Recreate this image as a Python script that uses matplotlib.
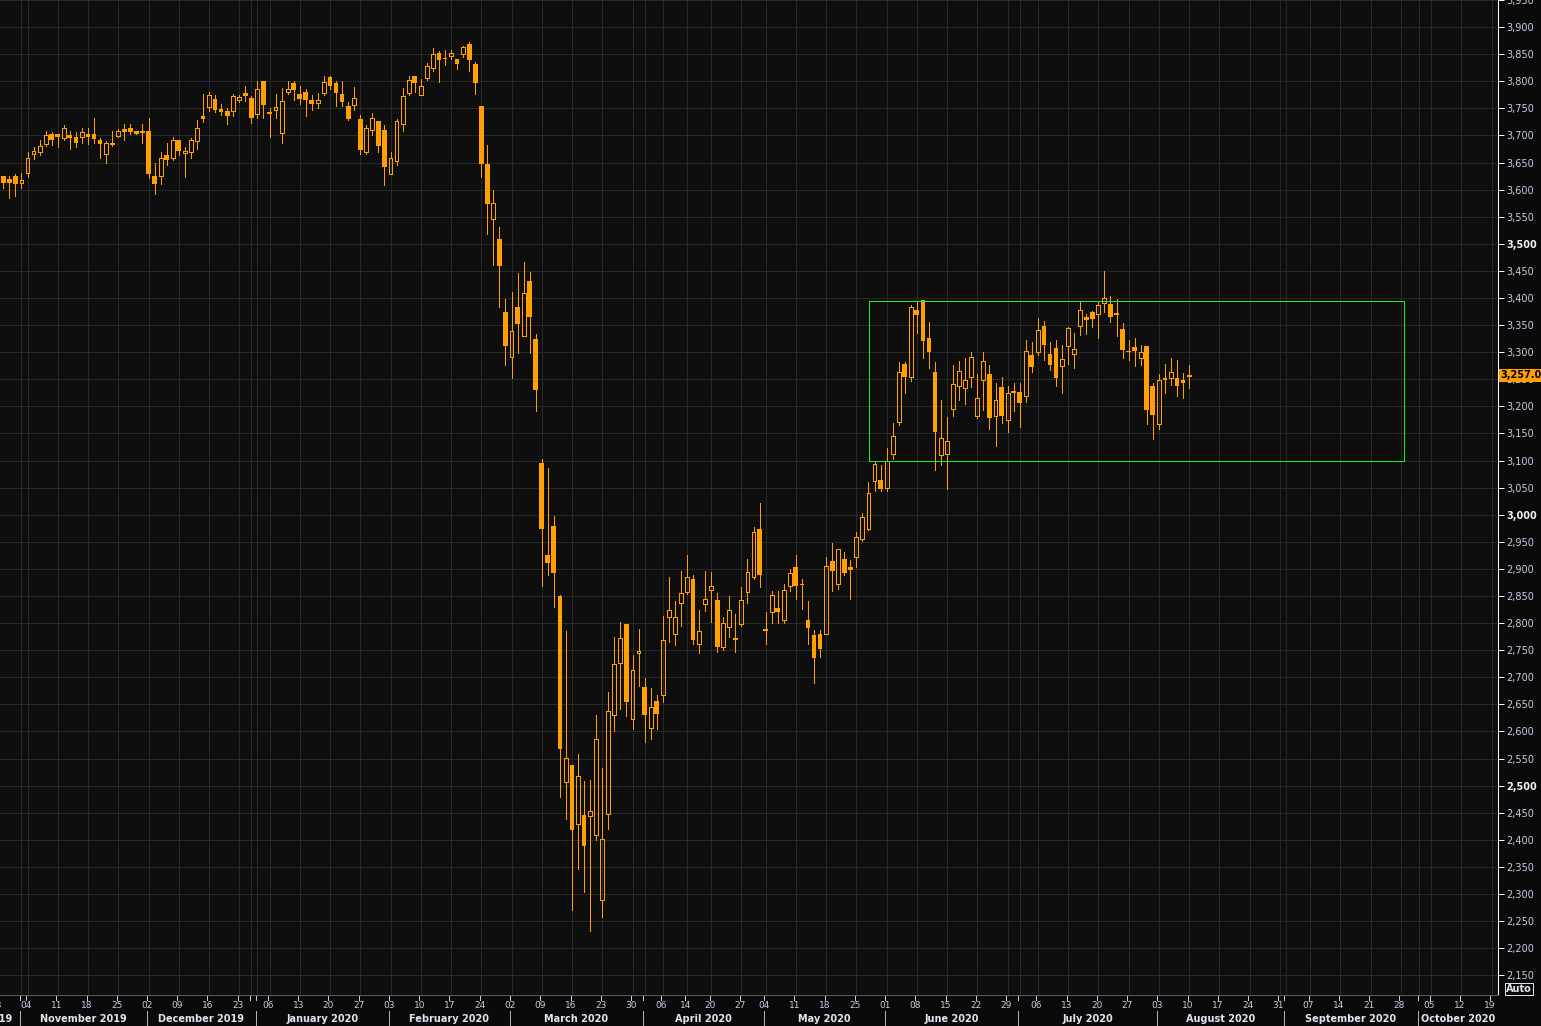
import matplotlib
matplotlib.use("Agg")
import matplotlib.pyplot as plt
from matplotlib.lines import Line2D
from matplotlib.patches import Rectangle
from matplotlib.transforms import blended_transform_factory
import numpy as np
import pandas as pd

# Eurex trading calendar (holidays skipped, one slot per trading day)
holidays = ['2019-12-24', '2019-12-25', '2019-12-26', '2019-12-31', '2020-01-01',
            '2020-04-10', '2020-04-13', '2020-05-01']
days = pd.bdate_range('2019-10-28', '2020-10-30')
days = days[~days.isin(pd.to_datetime(holidays))]

# daily candles from 2019-10-29 to 2020-08-10
opens = [3626, 3619, 3625, 3612, 3630, 3666, 3670, 3684, 3702, 3702,
         3696, 3700, 3698, 3697, 3702, 3702, 3691, 3666, 3687, 3699,
         3711, 3713, 3708, 3708, 3708, 3626, 3626, 3664, 3659, 3691,
         3667, 3670, 3689, 3735, 3752, 3768, 3748, 3746, 3745, 3765,
         3779, 3770, 3740, 3801, 3743, 3747, 3705, 3780, 3796, 3776,
         3781, 3766, 3760, 3778, 3807, 3796, 3777, 3754, 3756, 3730,
         3670, 3710, 3726, 3710, 3629, 3653, 3721, 3778, 3809, 3775,
         3806, 3825, 3853, 3842, 3846, 3842, 3850, 3868, 3831, 3754,
         3647, 3545, 3509, 3375, 3291, 3383, 3330, 3432, 3324, 3096,
         2925, 2980, 2850, 2507, 2538, 2429, 2445, 2444, 2409, 2289,
         2447, 2631, 2727, 2799, 2623, 2744, 2682, 2607, 2656, 2668,
         2811, 2780, 2837, 2857, 2882, 2762, 2836, 2862, 2842, 2756,
         2792, 2770, 2798, 2857, 2885, 2974, 2790, 2820, 2827, 2805,
         2868, 2904, 2872, 2806, 2778, 2779, 2780, 2914, 2873, 2919,
         2904, 2922, 2955, 2973, 3062, 3064, 3050, 3113, 3172, 3279,
         3254, 3377, 3396, 3327, 3264, 3110, 3113, 3195, 3238, 3234,
         3255, 3183, 3249, 3260, 3183, 3235, 3174, 3228, 3226, 3220,
         3294, 3301, 3349, 3297, 3308, 3275, 3312, 3297, 3349, 3365,
         3374, 3371, 3391, 3389, 3373, 3343, 3303, 3310, 3290, 3312,
         3237, 3167, 3252, 3253, 3253, 3248, 3256]
highs = [3626, 3625, 3629, 3630, 3669, 3678, 3692, 3709, 3707, 3702,
         3719, 3708, 3706, 3713, 3714, 3733, 3695, 3689, 3709, 3711,
         3722, 3722, 3708, 3721, 3732, 3649, 3669, 3686, 3698, 3692,
         3678, 3695, 3728, 3776, 3781, 3774, 3758, 3751, 3776, 3774,
         3792, 3772, 3801, 3801, 3751, 3776, 3787, 3800, 3800, 3792,
         3785, 3774, 3779, 3809, 3809, 3800, 3801, 3761, 3790, 3737,
         3719, 3741, 3726, 3720, 3669, 3730, 3787, 3809, 3809, 3805,
         3833, 3862, 3855, 3857, 3857, 3842, 3866, 3873, 3836, 3754,
         3682, 3599, 3531, 3399, 3412, 3447, 3467, 3448, 3333, 3103,
         3087, 2997, 2852, 2786, 2538, 2559, 2509, 2511, 2630, 2533,
         2673, 2774, 2802, 2799, 2741, 2790, 2699, 2680, 2667, 2814,
         2886, 2840, 2897, 2925, 2889, 2824, 2897, 2895, 2856, 2812,
         2850, 2816, 2866, 2919, 2977, 3022, 2820, 2860, 2860, 2873,
         2899, 2925, 2882, 2840, 2787, 2787, 2922, 2947, 2937, 2931,
         2917, 2968, 3004, 3061, 3099, 3092, 3123, 3169, 3281, 3281,
         3387, 3395, 3396, 3355, 3281, 3211, 3181, 3277, 3283, 3290,
         3300, 3259, 3300, 3277, 3243, 3254, 3237, 3244, 3244, 3322,
         3318, 3363, 3358, 3318, 3322, 3313, 3347, 3336, 3393, 3371,
         3376, 3393, 3449, 3404, 3399, 3353, 3322, 3327, 3314, 3312,
         3244, 3260, 3278, 3290, 3285, 3261, 3276]
lows = [3603, 3585, 3589, 3603, 3624, 3657, 3664, 3681, 3683, 3679,
        3692, 3675, 3679, 3686, 3684, 3686, 3658, 3649, 3680, 3697,
        3691, 3702, 3702, 3686, 3622, 3592, 3611, 3646, 3654, 3664,
        3623, 3658, 3675, 3724, 3746, 3743, 3738, 3721, 3735, 3762,
        3763, 3723, 3733, 3733, 3698, 3733, 3687, 3776, 3765, 3758,
        3736, 3747, 3751, 3774, 3785, 3754, 3754, 3728, 3747, 3665,
        3665, 3701, 3670, 3609, 3629, 3646, 3708, 3774, 3780, 3775,
        3803, 3819, 3798, 3830, 3841, 3822, 3844, 3819, 3776, 3624,
        3519, 3461, 3384, 3277, 3252, 3299, 3330, 3298, 3191, 2868,
        2889, 2829, 2480, 2439, 2271, 2347, 2304, 2232, 2400, 2258,
        2420, 2601, 2642, 2629, 2605, 2684, 2580, 2587, 2605, 2655,
        2765, 2760, 2795, 2854, 2762, 2745, 2822, 2802, 2747, 2750,
        2774, 2747, 2795, 2837, 2881, 2866, 2762, 2800, 2800, 2800,
        2860, 2844, 2826, 2762, 2690, 2738, 2779, 2860, 2863, 2888,
        2844, 2903, 2952, 2971, 3044, 3044, 3044, 3102, 3165, 3225,
        3246, 3336, 3289, 3270, 3083, 3091, 3047, 3183, 3212, 3205,
        3236, 3178, 3194, 3159, 3126, 3170, 3153, 3192, 3162, 3208,
        3263, 3295, 3286, 3267, 3237, 3225, 3278, 3270, 3332, 3333,
        3346, 3326, 3375, 3355, 3330, 3289, 3286, 3275, 3276, 3168,
        3140, 3159, 3224, 3240, 3219, 3216, 3234]
closes = [3613, 3612, 3611, 3618, 3659, 3672, 3681, 3700, 3691, 3697,
          3714, 3695, 3686, 3707, 3697, 3693, 3684, 3686, 3682, 3709,
          3706, 3707, 3702, 3704, 3629, 3611, 3659, 3655, 3692, 3672,
          3671, 3692, 3713, 3730, 3775, 3747, 3744, 3735, 3773, 3771,
          3773, 3732, 3786, 3756, 3740, 3753, 3764, 3786, 3784, 3767,
          3765, 3758, 3766, 3799, 3792, 3779, 3761, 3730, 3770, 3673,
          3713, 3733, 3681, 3641, 3658, 3726, 3773, 3803, 3796, 3792,
          3829, 3851, 3839, 3841, 3853, 3831, 3864, 3839, 3796, 3648,
          3574, 3576, 3459, 3311, 3339, 3352, 3410, 3365, 3231, 2974,
          2911, 2892, 2567, 2551, 2418, 2518, 2389, 2454, 2586, 2402,
          2637, 2725, 2773, 2655, 2714, 2748, 2631, 2646, 2633, 2768,
          2825, 2812, 2856, 2885, 2769, 2786, 2845, 2869, 2756, 2801,
          2825, 2773, 2843, 2895, 2969, 2888, 2786, 2852, 2820, 2862,
          2893, 2868, 2870, 2791, 2736, 2752, 2906, 2896, 2937, 2892,
          2898, 2959, 2996, 3040, 3093, 3047, 3099, 3146, 3264, 3254,
          3384, 3368, 3320, 3300, 3153, 3141, 3137, 3242, 3266, 3249,
          3292, 3216, 3284, 3179, 3211, 3183, 3224, 3225, 3207, 3303,
          3273, 3341, 3313, 3276, 3252, 3288, 3345, 3306, 3378, 3359,
          3361, 3387, 3400, 3365, 3368, 3304, 3300, 3302, 3301, 3194,
          3184, 3249, 3248, 3264, 3238, 3244, 3257]
first_day = '2019-10-29'
last_price = 3257.0

# range box drawn on the chart
box_from, box_to = '2020-05-27', '2020-09-28'
box_low, box_high = 3100, 3395

bold_levels = [2500, 3000, 3500]
label_skip = ['2019-12-30']

ORANGE = '#ffa000'
GREEN = '#1cf01c'
BG = '#0e0e0e'
GRID = '#282828'
TXT = '#c2d0e6'
MONTH_TXT = '#dde6f2'

W, H = 1541, 1026
fig = plt.figure(figsize=(W / 100, H / 100), dpi=100, facecolor='#0a0a0a')
ax = fig.add_axes([0, 1 - 995 / H, 1498 / W, 995 / H])
ax.set_facecolor(BG)

pos = {d: i for i, d in enumerate(days)}
x0 = pos[pd.Timestamp(first_day)]
xs = np.arange(x0, x0 + len(opens))
o = np.array(opens, float)
h = np.array(highs, float)
l = np.array(lows, float)
c = np.array(closes, float)
up = c >= o

# candles
lw = 1.0 * 72 / 100
top = np.maximum(o, c)
bot = np.minimum(o, c)
ax.vlines(xs[~up], l[~up], h[~up], color=ORANGE, lw=lw, zorder=3, antialiased=False)
ax.vlines(xs[up], l[up], bot[up], color=ORANGE, lw=lw, zorder=3, antialiased=False)
ax.vlines(xs[up], top[up], h[up], color=ORANGE, lw=lw, zorder=3, antialiased=False)
ax.bar(xs[~up], np.maximum(top[~up] - bot[~up], 2), bottom=bot[~up], width=0.78,
       color=ORANGE, lw=0, zorder=4, antialiased=False)
ax.bar(xs[up], np.maximum(top[up] - bot[up], 1), bottom=bot[up], width=0.64,
       facecolor='none', edgecolor=ORANGE, lw=lw, zorder=4, antialiased=False)

# limits: one candle slot = 6.05 px, 0.5455 px per index point
px = 6.05
py = 0.5455
y3000 = 511.5
xl = x0 - 3.3 / px
ax.set_xlim(xl, xl + 1498 / px)
ax.set_ylim(3000 - (995 - y3000) / py, 3000 + y3000 / py)

# tick positions: first trading day of each week and of each month
ser = pd.Series(days)
week_first = ser.groupby(ser.dt.to_period('W')).first()
month_first = ser.groupby(ser.dt.to_period('M')).first()
tick_days = sorted(set(week_first) | set(month_first))
x_lo, x_hi = ax.get_xlim()

for d in tick_days:
    ax.axvline(pos[d], color=GRID, lw=lw, zorder=1)
yt = np.arange(2150, 4000, 50)
for v in yt:
    ax.axhline(v, color=GRID, lw=lw, zorder=1)

# range box
bx0 = pos[pd.Timestamp(box_from)] + 0.1
bx1 = pos[pd.Timestamp(box_to)] + 0.6
ax.add_patch(Rectangle((bx0, box_low), bx1 - bx0, box_high - box_low, fill=False,
                       edgecolor=GREEN, lw=lw, zorder=5, antialiased=False))

# right price axis
ax.yaxis.tick_right()
ax.set_yticks(yt)
ax.set_yticklabels([f'{v:,}' for v in yt])
ax.tick_params(axis='y', colors='white', length=4, width=lw, pad=2, labelsize=7,
               labelcolor=TXT)
for t, v in zip(ax.get_yticklabels(), yt):
    if v in bold_levels:
        t.set_fontweight('bold')
        t.set_color('#eef2f8')
ax.set_xticks([])
for s in ['left', 'top']:
    ax.spines[s].set_visible(False)
ax.spines['right'].set_color('white')
ax.spines['right'].set_linewidth(lw)
ax.spines['bottom'].set_color('#5a5a5a')
ax.spines['bottom'].set_linewidth(lw)

# last price tag
tr = blended_transform_factory(ax.transAxes, ax.transData)
ax.text(1.0015, last_price, f'{last_price:,.1f}', transform=tr, ha='left', va='center',
        fontsize=7, fontweight='bold', color='black', clip_on=False,
        bbox=dict(boxstyle='square,pad=0.12', fc=ORANGE, ec='none'), zorder=10)

# date axis, two rows (labels sit a little left of the candle centres)
bt = blended_transform_factory(ax.transData, fig.transFigure)
yrow1 = 1 - 1005 / H
yrow2 = 1 - 1019 / H
shift = -1.5 / px
for d in tick_days:
    xp = pos[d] + shift
    if xp > x_hi:
        continue
    fig.add_artist(Line2D([xp, xp], [1 - 996 / H, 1 - 1000 / H], transform=bt,
                          color='#d0d0d0', lw=lw))
for d in week_first:
    if d.strftime('%Y-%m-%d') in label_skip or pos[d] > x_hi - 0.5:
        continue
    fig.text(pos[d] + shift, yrow1, d.strftime('%d'), transform=bt, ha='center',
             va='center', fontsize=6.5, color=TXT)

mf = list(month_first)
for k, d in enumerate(mf):
    xa = pos[d] + shift
    if xa > x_hi:
        break
    xb = pos[mf[k + 1]] + shift if k + 1 < len(mf) else x_hi
    fig.add_artist(Line2D([xa, xa], [1 - 1011 / H, 0], transform=bt,
                          color='#b0b0b0', lw=lw))
    nm = d.strftime('%B %Y')
    if xa < x_lo:
        # month started before the first visible day: label ends at its separator
        fig.text(xb - 8 / px, yrow2, nm, transform=bt, ha='right', va='center',
                 fontsize=7, fontweight='bold', color=MONTH_TXT)
    else:
        fig.text((xa + min(xb, x_hi)) / 2, yrow2, nm, transform=bt, ha='center',
                 va='center', fontsize=7, fontweight='bold', color=MONTH_TXT)

# scale mode box
fig.text(1519 / W, 1 - 989 / H, 'Auto', ha='center', va='center', fontsize=7,
         fontweight='bold', color=MONTH_TXT,
         bbox=dict(boxstyle='square,pad=0.15', fc='#0a0a0a', ec='#e0e0e0', lw=lw))

fig.savefig('out.png', dpi=100, facecolor=fig.get_facecolor())
